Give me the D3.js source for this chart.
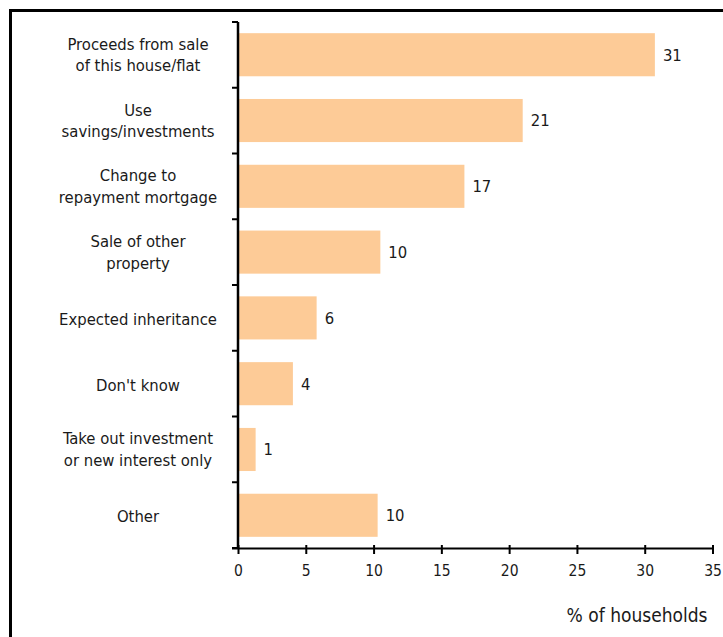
<!DOCTYPE html>
<html><head><meta charset="utf-8">
<script src="https://cdn.jsdelivr.net/npm/d3@7"></script>
<style>
body{margin:0;background:#fff;}
text{font-family:"DejaVu Sans Condensed","DejaVu Sans",sans-serif;fill:#1a1a1a;}
</style></head>
<body><svg id="chart" width="723" height="637"></svg>
<script>
const categories = [
  ["Proceeds from sale", "of this house/flat"],
  ["Use", "savings/investments"],
  ["Change to", "repayment mortgage"],
  ["Sale of other", "property"],
  ["Expected inheritance"],
  ["Don't know"],
  ["Take out investment", "or new interest only"],
  ["Other"]
];
const values = [30.75, 21.0, 16.7, 10.5, 5.8, 4.05, 1.3, 10.3];
const valueLabels = ["31", "21", "17", "10", "6", "4", "1", "10"];
const xTicks = [0, 5, 10, 15, 20, 25, 30, 35];
const xTitle = "% of households";

(function(){
const svg = d3.select("#chart");
const L = 238, R = 712.5, T = 22, B = 548;

svg.append("path").attr("d", `M10.5,637 V10.5 H723`).attr("fill","none").attr("stroke","#000").attr("stroke-width",3);

const x = d3.scaleLinear().domain([0, 35]).range([L, R]);
const y = d3.scaleBand().domain(d3.range(categories.length)).range([T, B]).paddingInner(0.345).paddingOuter(0.17);

svg.selectAll("rect.bar").data(values).join("rect")
  .attr("class","bar")
  .attr("x", x(0)).attr("y", (d,i)=>y(i))
  .attr("width", d=>x(d)-x(0)).attr("height", y.bandwidth())
  .attr("fill", "#fdcb97");

svg.selectAll("text.val").data(values).join("text")
  .attr("class","val")
  .attr("x", d=>x(d)+8).attr("y", (d,i)=>y(i)+y.bandwidth()/2)
  .attr("dy","0.36em").attr("font-size",16.5)
  .text((d,i)=>valueLabels[i]);

const xAxis = svg.append("g").attr("transform",`translate(0,${B})`)
  .call(d3.axisBottom(x).tickValues(xTicks).tickSize(6).tickPadding(11).tickSizeOuter(0));
xAxis.attr("font-size",null).attr("font-family",null);
xAxis.select(".domain").attr("stroke","#000").attr("stroke-width",2).attr("d",`M${L-6},0.5H${R+1}`);
xAxis.selectAll(".tick line").attr("stroke","#000").attr("stroke-width",2).attr("y1",-3);
xAxis.selectAll(".tick text").attr("font-size",15.5).attr("fill","#1a1a1a");

const bounds = d3.range(categories.length + 1).map(i => T + i * (B - T) / categories.length);
const yg = svg.append("g");
yg.append("line").attr("x1",L).attr("x2",L).attr("y1",T).attr("y2",B).attr("stroke","#000").attr("stroke-width",2.5);
yg.selectAll("line.bt").data(bounds).join("line").attr("class","bt")
  .attr("x1",L-6).attr("x2",L).attr("y1",d=>d).attr("y2",d=>d)
  .attr("stroke","#000").attr("stroke-width",2);

const cl = svg.selectAll("text.cat").data(categories).join("text")
  .attr("class","cat").attr("text-anchor","middle").attr("font-size",16.5)
  .attr("x", 138)
  .attr("y", (d,i)=>y(i)+y.bandwidth()/2 + (d.length > 1 ? -5 : 7));
cl.selectAll("tspan").data(d=>d.map((t,j)=>({t,j}))).join("tspan")
  .attr("x",138)
  .attr("dy",(e)=> e.j===0 ? 0 : 21.5)
  .text(e=>e.t);

svg.append("text").attr("x",707.5).attr("y",621.5).attr("text-anchor","end").attr("font-size",19).text(xTitle);
})();
</script></body></html>
